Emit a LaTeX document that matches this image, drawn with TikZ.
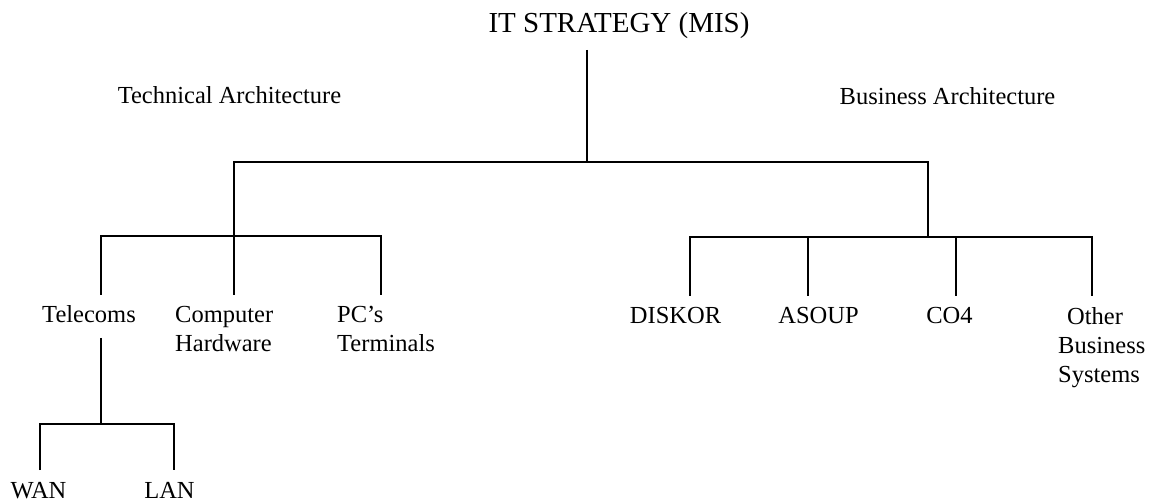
\documentclass[tikz,border=0pt]{standalone}
\usepackage{fontspec}
\setmainfont{Liberation Serif}
\begin{document}
\begin{tikzpicture}[x=1pt,y=-1pt,
  itemtext/.style={inner sep=0pt, font=\fontsize{24.5}{29}\selectfont},
  titletext/.style={inner sep=0pt, font=\fontsize{29}{34}\selectfont},
  branch/.style={line width=1.8pt, draw=black}]
\useasboundingbox (0,0) rectangle (1151,502);
\fill[white] (0,0) rectangle (1151,502);

% ---- text ----
\node[titletext, anchor=base] (strategy) at (619,33) {IT STRATEGY (MIS)};
\node[itemtext, anchor=base] (techarch) at (229.5,104) {Technical Architecture};
\node[itemtext, anchor=base] (bizarch)  at (947.5,105) {Business Architecture};

\node[itemtext, anchor=base] (telecoms) at (89,323) {Telecoms};
\node[itemtext, anchor=north west, align=left] (hardware) at (175,306.4) {Computer\\Hardware};
\node[itemtext, anchor=north west, align=left] (pcs) at (337,306.4) {PC’s\\Terminals};

\node[itemtext, anchor=base] (diskor) at (675.5,324) {DISKOR};
\node[itemtext, anchor=base] (asoup)  at (818.5,324) {ASOUP};
\node[itemtext, anchor=base] (cofour) at (949.5,324) {CO4};
\node[itemtext, anchor=north west, align=left] (other) at (1058,307.4) {\hspace*{9pt}Other\\Business\\Systems};

\node[itemtext, anchor=base] (wan) at (38.5,498) {WAN};
\node[itemtext, anchor=base] (lan) at (169.5,498) {LAN};

% ---- junction points of the tree ----
\coordinate (top)    at (587,50);
\coordinate (hub)    at (587,162);
\coordinate (techJ)  at (234,236);
\coordinate (bizJ)   at (928,237);

\coordinate (dTel)   at (101,295);
\coordinate (dHw)    at (234,295);
\coordinate (dPc)    at (381,295);

\coordinate (dDis)   at (690,296);
\coordinate (dAso)   at (808,296);
\coordinate (dCo)    at (956,296);
\coordinate (dOth)   at (1092,296);

\coordinate (telUp)  at (101,338);
\coordinate (telJ)   at (101,424);
\coordinate (dWan)   at (40,470);
\coordinate (dLan)   at (174,470);

% ---- connectors ----
\draw[branch] (top) -- (hub);
\draw[branch] (techJ) |- (hub) -| (bizJ);

\draw[branch] (dTel) |- (techJ) -| (dPc);
\draw[branch] (techJ) -- (dHw);

\draw[branch] (dDis) |- (bizJ) -| (dOth);
\draw[branch] (bizJ -| dAso) -- (dAso);
\draw[branch] (bizJ -| dCo) -- (dCo);

\draw[branch] (telUp) -- (telJ);
\draw[branch] (dWan) |- (telJ) -| (dLan);
\end{tikzpicture}
\end{document}
